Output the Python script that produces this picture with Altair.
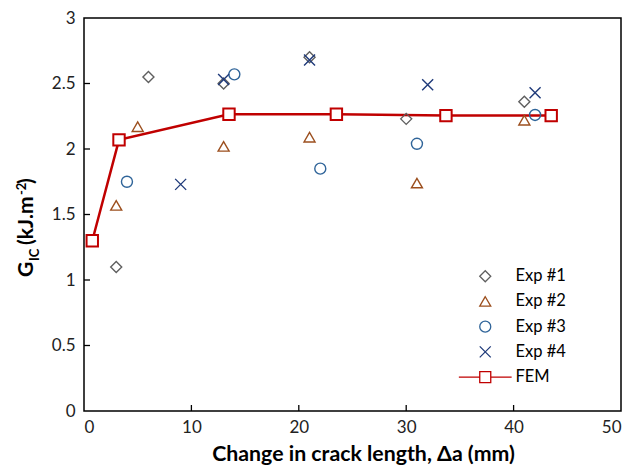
import altair as alt
import pandas as pd

# ---- data ----
exp1_x = [3, 6, 13, 21, 30, 41]
exp1_y = [1.10, 2.55, 2.50, 2.70, 2.23, 2.36]
exp2_x = [3, 5, 13, 21, 31, 41]
exp2_y = [1.57, 2.17, 2.02, 2.09, 1.74, 2.22]
exp3_x = [4, 14, 22, 31, 42]
exp3_y = [1.75, 2.57, 1.85, 2.04, 2.26]
exp4_x = [9, 13, 21, 32, 42]
exp4_y = [1.73, 2.53, 2.68, 2.49, 2.43]
fem_x = [0.77, 3.26, 13.5, 23.5, 33.7, 43.5]
fem_y = [1.30, 2.07, 2.265, 2.265, 2.255, 2.255]

series_names = ["Exp #1", "Exp #2", "Exp #3", "Exp #4", "FEM"]
series_colors = ["#5f5f5f", "#9c4f1e", "#2f6499", "#1f3a7a", "#c00000"]
x_ticks = [0, 10, 20, 30, 40, 50]
y_ticks = [0, 0.5, 1, 1.5, 2, 2.5, 3]

X_PATH = "M-1,-1L1,1M-1,1L1,-1"
FEM_PATH = "M-4.8,0H-1M1,0H4.8M-1,-1H1V1H-1Z"
series_shapes = ["diamond", "triangle-up", "circle", X_PATH, FEM_PATH]

FONT = "Lato"
W, H = 537, 393

rows = []
for name, xs, ys in [("Exp #1", exp1_x, exp1_y), ("Exp #2", exp2_x, exp2_y),
                     ("Exp #3", exp3_x, exp3_y), ("Exp #4", exp4_x, exp4_y)]:
    for a, b in zip(xs, ys):
        rows.append({"series": name, "x": a, "y": b})
exp_df = pd.DataFrame(rows)
fem_df = pd.DataFrame({"series": "FEM", "x": fem_x, "y": fem_y})

xscale = alt.Scale(domain=[0, 50], nice=False, zero=False)
yscale = alt.Scale(domain=[0, 3], nice=False, zero=False)

xenc = alt.X("x:Q", scale=xscale,
             axis=alt.Axis(values=x_ticks, title="Change in crack length, Δa (mm)",
                           grid=False, ticks=False, domain=False, labelPadding=8.5,
                           labelFont=FONT, labelFontSize=17, labelColor="#222",
                           titleFont=FONT, titleFontSize=21.3, titleFontWeight="bold",
                           titleColor="#000", titlePadding=8, titleX=279, titleAlign="center"))
yenc = alt.Y("y:Q", scale=yscale,
             axis=alt.Axis(values=y_ticks, title=None, format="~g",
                           grid=False, ticks=False, domain=False, labelPadding=9,
                           labelFont=FONT, labelFontSize=17, labelColor="#222"))

legend = alt.Legend(title=None, orient="none", legendX=393, legendY=250,
                    labelFont=FONT, labelFontSize=16.5, labelColor="#000",
                    symbolSize=121, symbolStrokeWidth=1.3, labelOffset=22,
                    rowPadding=8.2, padding=0)

points = alt.Chart(exp_df).mark_point(filled=False, size=121, strokeWidth=1.4, opacity=1).encode(
    x=xenc, y=yenc,
    color=alt.Color("series:N", scale=alt.Scale(domain=series_names, range=series_colors), legend=legend),
    shape=alt.Shape("series:N", scale=alt.Scale(domain=series_names, range=series_shapes), legend=legend),
)

fem_line = alt.Chart(fem_df).mark_line(color="#c00000", strokeWidth=2.5).encode(
    x=alt.X("x:Q", scale=xscale), y=alt.Y("y:Q", scale=yscale))

fem_pts = alt.Chart(fem_df).mark_point(shape="square", filled=True, fill="white", stroke="#c00000",
                                        strokeWidth=2, size=130, opacity=1).encode(
    x=alt.X("x:Q", scale=xscale), y=alt.Y("y:Q", scale=yscale))

ytick_df = pd.DataFrame({"v": y_ticks[1:-1]})
xtick_df = pd.DataFrame({"v": x_ticks[1:-1]})
yticks = alt.Chart(ytick_df).mark_rule(color="#000", strokeWidth=1.3).encode(
    y=alt.Y("v:Q", scale=yscale), x=alt.value(0), x2=alt.value(6))
xticks = alt.Chart(xtick_df).mark_rule(color="#000", strokeWidth=1.3).encode(
    x=alt.X("v:Q", scale=xscale), y=alt.value(H), y2=alt.value(H - 6))

# y-axis title with subscript / superscript
def piece(txt, px, py, size):
    return alt.Chart(pd.DataFrame({"t": [txt]})).mark_text(
        angle=270, align="left", baseline="alphabetic", font=FONT, fontSize=size,
        fontWeight="bold", color="#000").encode(text="t:N", x=alt.value(px), y=alt.value(py))

base_x = -51
title_parts = alt.layer(
    piece("G", base_x, 259, 21),
    piece("IC", base_x + 6, 243, 13),
    piece("(kJ.m", base_x, 227, 21),
    piece("-2", base_x - 7, 177, 13),
    piece(")", base_x, 166, 21),
)

chart = alt.layer(yticks, xticks, fem_line, points, fem_pts, title_parts).resolve_scale(
    color="shared", shape="shared"
).properties(
    width=W, height=H,
    autosize=alt.AutoSizeParams(type="none"),
    padding={"left": 84, "top": 18, "right": 19, "bottom": 58},
).configure_view(stroke="#000", strokeWidth=1.5)

chart.save("out.html", embed_options={"renderer": "svg", "actions": False})
